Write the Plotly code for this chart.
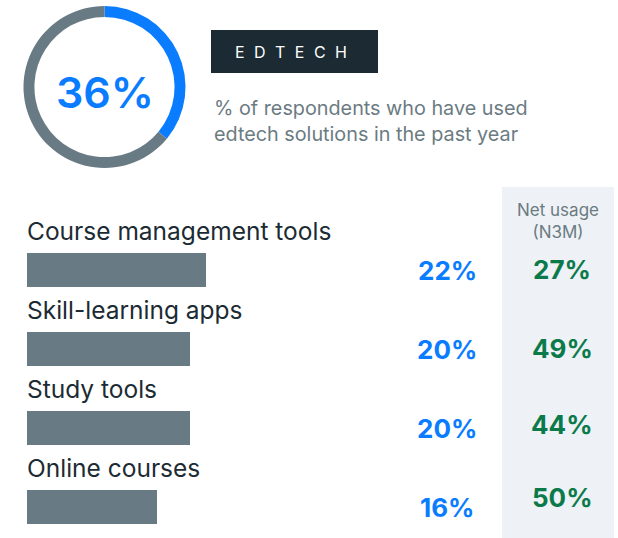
import plotly.graph_objects as go

# data
total_share = 36
categorias = ["Course management tools", "Skill-learning apps", "Study tools", "Online courses"]
uso = [22, 20, 20, 16]
uso_liquido = [27, 49, 44, 50]
titulo_tag = "EDTECH"
subtitulo = "% of respondents who have used<br>edtech solutions in the past year"
col_header = "Net usage<br>(N3M)"

W, H = 618, 538
AZUL = "#0a7cff"
CINZA = "#687a83"
VERDE = "#0b7a4b"
ESCURO = "#1c2b33"
FONTE = "Inter"

def px(x):
    return x / W

def py(y):
    return 1 - y / H

fig = go.Figure()

# donut
fig.add_trace(go.Pie(
    values=[total_share, 100 - total_share],
    marker=dict(colors=[AZUL, CINZA], line=dict(width=0)),
    hole=0.865,
    sort=False,
    direction='clockwise',
    rotation=0,
    textinfo='none',
    hoverinfo='skip',
    showlegend=False,
    domain=dict(x=[px(23), px(186)], y=[py(168), py(6)]),
))

# barras
idx = list(range(len(categorias)))
fig.add_trace(go.Bar(
    x=uso,
    y=idx,
    orientation='h',
    width=0.42,
    marker_color=CINZA,
    marker_line_width=0,
    hoverinfo='skip',
    showlegend=False,
))

# 1% = 8.14 px, zero em x=27
esc = 8.14
row = 79.0
fig.update_xaxes(range=[-27 / esc, (W - 27) / esc], visible=False, domain=[0, 1])
fig.update_yaxes(range=[(H - 270) / row, -270 / row], visible=False, domain=[0, 1])

shapes = [
    # painel da direita
    dict(type='rect', xref='paper', yref='paper', x0=px(502), x1=px(614), y0=0, y1=py(187),
         fillcolor='#eef2f6', line_width=0, layer='below'),
    # caixa EDTECH
    dict(type='rect', xref='paper', yref='paper', x0=px(211), x1=px(378), y0=py(73), y1=py(30),
         fillcolor='#1b2a33', line_width=0),
]

def nota(text, x, y, size, color, weight=400, xref='paper', yref='paper', **kw):
    d = dict(text=text, x=x, y=y, xref=xref, yref=yref, showarrow=False,
             xanchor=kw.pop('xanchor', 'center'), yanchor=kw.pop('yanchor', 'middle'),
             font=dict(family=FONTE, size=size, color=color, weight=weight))
    d.update(kw)
    return d

annotations = [
    nota(f"{total_share}%", px(105), py(92), 43, AZUL, 600),
    nota("\u2002\u200a".join(titulo_tag), px(291), py(52), 16, 'white'),
    nota(subtitulo, px(212), py(121), 19.8, '#6b7b82', xanchor='left', align='left'),
    nota(col_header, px(558), py(221), 17, '#6b7b82'),
]

desloc_verde = [-1, -1, -4, -10]
for i, (cat, u, n) in enumerate(zip(categorias, uso, uso_liquido)):
    annotations.append(nota(cat, -0.3, i - 0.49, 24.5, ESCURO, xref='x', yref='y', xanchor='left'))
    annotations.append(nota(f"{u}%", px(447), i, 26, AZUL, 'bold', yref='y'))
    annotations.append(nota(f"{n}%", px(562), i, 26, VERDE, 'bold', yref='y', yshift=-desloc_verde[i]))

fig.update_layout(
    width=W, height=H,
    margin=dict(l=0, r=0, t=0, b=0),
    paper_bgcolor='white',
    plot_bgcolor='rgba(0,0,0,0)',
    shapes=shapes,
    annotations=annotations,
    bargap=0,
)

fig.write_html("out.html", config={'displayModeBar': False},
               post_script="document.body.style.margin='0';document.body.style.overflow='hidden';")
